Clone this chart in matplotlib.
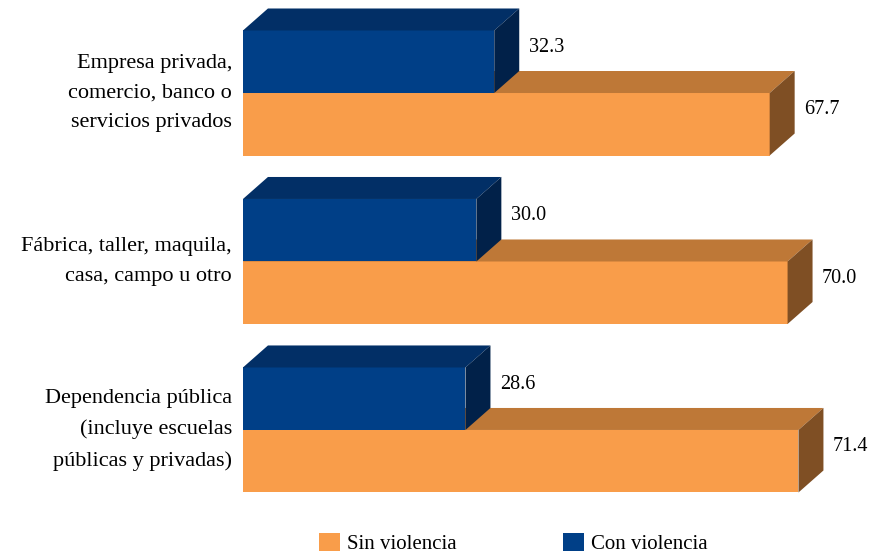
import numpy as np
import matplotlib
matplotlib.use('Agg')
import matplotlib.pyplot as plt
from matplotlib.patches import Polygon, Patch

plt.rcParams['font.family'] = ['Liberation Serif', 'DejaVu Serif']

categorias = ['Empresa privada,\ncomercio, banco o\nservicios privados',
              'Fábrica, taller, maquila,\ncasa, campo u otro',
              'Dependencia pública\n(incluye escuelas\npúblicas y privadas)']
con_violencia = [32.3, 30.0, 28.6]
sin_violencia = [67.7, 70.0, 71.4]

# colores: frente, arriba, lado
naranja = ('#F99D4A', '#BE7837', '#7F4F24')
azul = ('#003F87', '#022F66', '#012149')

fig = plt.figure(figsize=(8.73, 5.56), dpi=100)
ax = fig.add_axes([0, 0, 1, 1])
ax.set_xlim(-31.23, 80.98)
ax.set_ylim(2.748, -0.552)
ax.axis('off')

h = 0.371      # alto de barra
dx = 3.21      # profundidad en x
dy = 0.1306    # profundidad en y


def barra3d(y0, valor, cols, z):
    # y0 = borde superior de la cara frontal
    ax.barh(y0 + h / 2, valor, height=h, left=0, color=cols[0], zorder=z)
    top = Polygon([(0, y0), (valor, y0), (valor + dx, y0 - dy), (dx, y0 - dy)],
                  closed=True, facecolor=cols[1], edgecolor='none', zorder=z)
    lado = Polygon([(valor, y0), (valor + dx, y0 - dy), (valor + dx, y0 + h - dy), (valor, y0 + h)],
                   closed=True, facecolor=cols[2], edgecolor='none', zorder=z)
    ax.add_patch(top)
    ax.add_patch(lado)


for i, cat in enumerate(categorias):
    barra3d(i, sin_violencia[i], naranja, 1)
    barra3d(i - h, con_violencia[i], azul, 2)
    ax.text(sin_violencia[i] + dx + 1.2, i + h / 2 - dy / 2 - 0.02, f'{sin_violencia[i]:.1f}',
            ha='left', va='center', fontsize=14.5)
    ax.text(con_violencia[i] + dx + 1.2, i - h / 2 - dy / 2 - 0.02, f'{con_violencia[i]:.1f}',
            ha='left', va='center', fontsize=14.5)
    ax.text(-1.4, i, cat, ha='right', va='center', fontsize=16, linespacing=1.77)

handles = [Patch(facecolor=naranja[0]), Patch(facecolor=azul[0])]
fig.legend(handles, ['Sin violencia', 'Con violencia'], loc='lower left',
           bbox_to_anchor=(319 / 873, 2 / 556), ncol=2, frameon=False,
           fontsize=15, handlelength=1.0, handleheight=1.0, handletextpad=0.35,
           columnspacing=5.1, borderpad=0, borderaxespad=0)

fig.savefig('out.png', dpi=100)
